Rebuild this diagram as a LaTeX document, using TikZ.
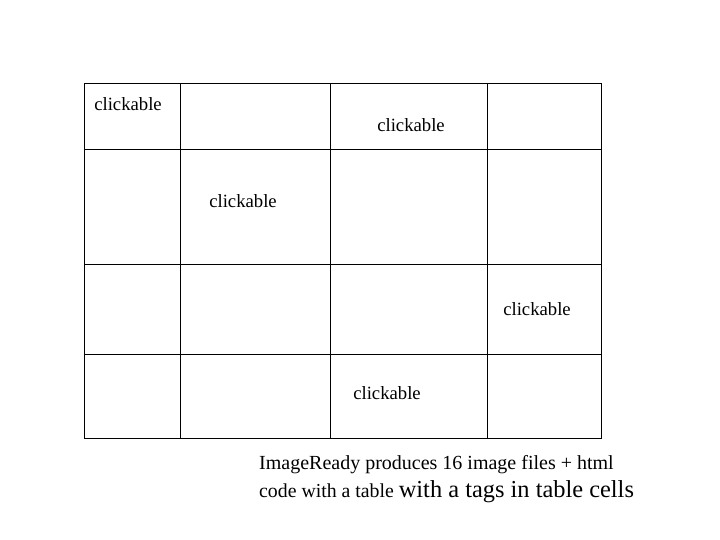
\documentclass[tikz,border=0pt]{standalone}
\usepackage{fontspec}
\setmainfont{Liberation Serif}
\begin{document}
\begin{tikzpicture}[x=1pt,y=-1pt,
  grid/.style={draw=black,line width=1pt},
  lbl/.style={inner sep=0pt,font=\fontsize{18.7}{22}\selectfont}]
\useasboundingbox (0,0) rectangle (720,540);
\draw[grid] (84,84) rectangle (601,438);
\draw[grid] (180,84) -- (180,438) (330,84) -- (330,438) (487,84) -- (487,438);
\draw[grid] (84,150) -- (601,150) (84,264) -- (601,264) (84,354) -- (601,354);
\node[lbl] (c1) at (128,104) {clickable};
\node[lbl] (c2) at (411,125) {clickable};
\node[lbl] (c3) at (243,201) {clickable};
\node[lbl] (c4) at (537,309) {clickable};
\node[lbl] (c5) at (387,393) {clickable};
\node[anchor=base west,inner sep=0pt,font=\fontsize{20}{22}\selectfont] (t1) at (259,469) {ImageReady produces 16 image files + html};
\node[anchor=base west,inner sep=0pt] (t2) at (259,497) {\fontsize{19.8}{22}\selectfont code with a table \fontsize{24.4}{28}\selectfont with a tags in table cells};
\end{tikzpicture}
\end{document}
